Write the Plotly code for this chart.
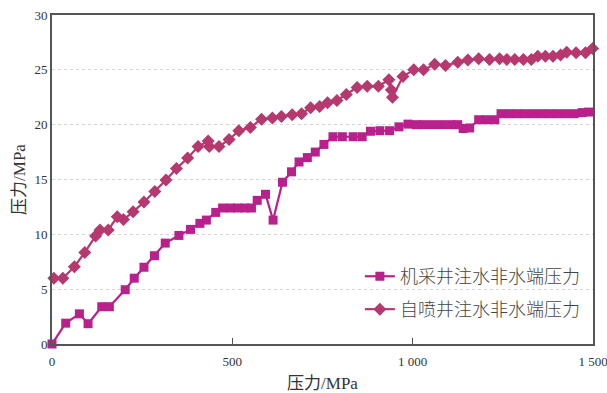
import plotly.graph_objects as go

# 机采井注水非水端压力
x_jc = [0, 38, 76, 100, 138, 159, 203, 228, 255, 284, 314, 352, 384, 410, 428, 454,
        473, 495, 515, 535, 553, 569, 592, 613, 639, 664, 685, 708, 730, 754, 779,
        805, 835, 860, 883, 909, 936, 962, 987, 1010, 1030, 1055, 1080, 1105, 1125,
        1140, 1158, 1183, 1205, 1228, 1245, 1268, 1290, 1312, 1335, 1358, 1380,
        1402, 1425, 1448, 1470, 1488]
y_jc = [0, 1.9, 2.75, 1.85, 3.4, 3.4, 4.95, 6.0, 7.0, 8.05, 9.2, 9.9, 10.45, 11.0, 11.3, 12.0,
        12.4, 12.4, 12.4, 12.4, 12.4, 13.1, 13.65, 11.3, 14.75, 15.7, 16.6, 17.0, 17.5, 18.2, 18.9,
        18.9, 18.9, 18.9, 19.4, 19.45, 19.45, 19.8, 20.05, 20.0, 20.0, 20.0, 20.0, 20.0, 20.0,
        19.65, 19.7, 20.45, 20.45, 20.45, 21.0, 21.0, 21.0, 21.0, 21.0, 21.0, 21.0,
        21.0, 21.0, 21.0, 21.1, 21.15]
# short line run-out past the frame at the end of the 机采 curve
x_jc_tail = [1488, 1512]
y_jc_tail = [21.15, 21.15]

# 自喷井注水非水端压力
x_zp = [5, 30, 62, 91, 121, 133, 156, 181, 198, 225, 255, 285, 316, 345, 376, 405,
        433, 436, 463, 491, 518, 550, 581, 611, 636, 666, 692, 717, 742, 764, 790,
        816, 846, 874, 905, 934, 941, 944, 973, 1003, 1030, 1061, 1091, 1125, 1153,
        1183, 1213, 1241, 1261, 1283, 1307, 1329, 1347, 1368, 1389, 1410, 1427,
        1453, 1479, 1499]
y_zp = [6.0, 6.0, 7.05, 8.35, 9.85, 10.4, 10.4, 11.6, 11.35, 12.05, 12.95, 13.9, 14.95, 16.0, 16.95, 18.0,
        18.5, 18.0, 18.0, 18.65, 19.45, 19.75, 20.5, 20.6, 20.75, 20.9, 21.0, 21.55, 21.65, 22.0, 22.2,
        22.75, 23.4, 23.5, 23.5, 24.1, 23.15, 22.5, 24.4, 25.0, 25.0, 25.5, 25.4, 25.7, 25.9,
        26.0, 25.95, 26.0, 25.95, 25.95, 25.95, 25.95, 26.25, 26.25, 26.25, 26.35, 26.6,
        26.55, 26.55, 26.95]

x_tickvals = [0, 500, 1000, 1500]
x_ticktext = ["0", "500", "1 000", "1 500"]
y_tickvals = [0, 5, 10, 15, 20, 25, 30]

c_jc = "#B8208C"
c_zp = "#B5386F"
serif = "Liberation Serif, Noto Sans CJK SC, serif"

fig = go.Figure()
fig.add_trace(go.Scatter(x=x_jc_tail, y=y_jc_tail, mode="lines", showlegend=False,
                         line=dict(color=c_jc, width=2.2), cliponaxis=False,
                         hoverinfo="skip"))
fig.add_trace(go.Scatter(x=x_jc, y=y_jc, mode="lines+markers", name="机采井注水非水端压力",
                         line=dict(color=c_jc, width=2.2), cliponaxis=False,
                         marker=dict(symbol="square", size=9, color=c_jc),
                         legend="legend", showlegend=True))
fig.add_trace(go.Scatter(x=x_zp, y=y_zp, mode="lines+markers", name="自喷井注水非水端压力",
                         line=dict(color=c_zp, width=2.2), cliponaxis=False,
                         marker=dict(symbol="diamond", size=10, color=c_zp),
                         legend="legend2", showlegend=True))

leg_font = dict(family="Noto Sans CJK SC", size=18, color="#444444", weight=300)
fig.update_layout(
    width=607, height=393,
    margin=dict(l=52, r=14, t=15, b=49),
    paper_bgcolor="white", plot_bgcolor="white",
    showlegend=True,
    font=dict(family=serif, color="#333333"),
    legend=dict(x=0.985, y=0.205, xanchor="right", yanchor="middle",
                bgcolor="rgba(0,0,0,0)", font=leg_font),
    legend2=dict(x=0.985, y=0.105, xanchor="right", yanchor="middle",
                 bgcolor="rgba(0,0,0,0)", font=leg_font),
    xaxis=dict(range=[0, 1500], tickvals=x_tickvals, ticktext=x_ticktext,
               ticks="inside", ticklen=6, tickcolor="#555555", tickwidth=1,
               showline=True, linecolor="#555555", linewidth=2, mirror=True,
               showgrid=False, zeroline=False, automargin=False,
               ticklabelstandoff=4, ticklabeloverflow="allow",
               tickfont=dict(family=serif, size=13, color="#333333"),
               title=dict(text="压力/MPa", font=dict(family=serif, size=17, color="#333333"),
                          standoff=14)),
    yaxis=dict(range=[0, 30], tickvals=y_tickvals,
               ticks="", showline=True, linecolor="#555555", linewidth=2, mirror=True,
               showgrid=True, gridcolor="#D6D6D6", griddash="dot", gridwidth=1,
               zeroline=False, automargin=False,
               tickfont=dict(family=serif, size=13, color="#333333"),
               title=dict(text="压力/MPa", font=dict(family=serif, size=17, color="#333333"),
                          standoff=4)),
)

fig.write_html("out.html", config={"displayModeBar": False},
               post_script="document.body.style.margin='0px';")
